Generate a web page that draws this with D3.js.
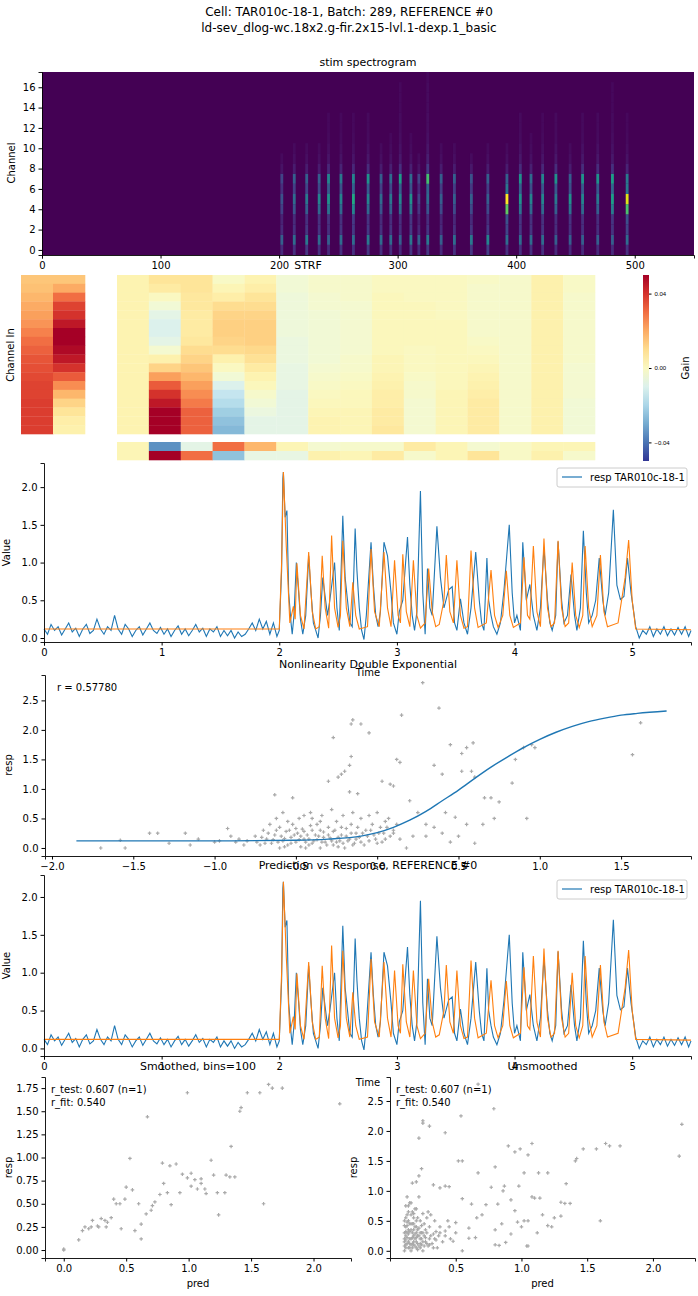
<!DOCTYPE html>
<html><head><meta charset="utf-8">
<script src="https://cdn.jsdelivr.net/npm/d3@7"></script>
<style>body{margin:0;background:#fff}svg{font-family:"DejaVu Sans",sans-serif}</style>
</head><body><svg id="c" width="698" height="1296"></svg>
<script>
// ---------- DATA ----------
const specT    = [202.3,212.8,223.3,233.8,241.7,252.2,262.7,275.1,286.0,294.2,302.2,311.2,317.9,325.4,336.7,347.9,362.2,376.1,392.2,403.5,412.5,422.3,433.5,445.5,456.0,468.8,481.2,493.6];
const specLow  = [0.3,0.35,0.4,0.35,0.3,0.35,0.35,0.4,0.35,0.35,0.3,0.4,0.3,0.4,0.3,0.35,0.4,0.45,0.35,0.35,0.35,0.35,0.3,0.3,0.3,0.3,0.3,0.35];
const specMid  = [0.25,0.35,0.4,0.45,0.5,0.45,0.6,0.45,0.35,0.4,0.45,0.5,0.2,0.35,0.3,0.3,0.3,0.3,1.0,0.5,0.45,0.45,0.4,0.5,0.45,0.4,0.55,0.95];
const specHigh = [0.2,0.3,0.3,0.3,0.45,0.4,0.45,0.5,0.3,0.35,0.55,0.35,0.2,0.7,0.3,0.3,0.25,0.3,0.3,0.5,0.35,0.45,0.5,0.3,0.5,0.5,0.55,0.4];
const chLowW  = [0.4,1.0,0.3,0.15,0,0,0,0,0,0,0,0,0,0,0,0,0,0];
const chMidW  = [0,0,0.1,0.2,0.75,1.0,0.3,0,0,0,0,0,0,0,0,0,0,0];
const chHighW = [0,0,0,0,0,0,0.3,1.0,0.25,0.12,0.08,0.06,0.05,0.05,0.04,0.04,0.04,0.03];

const strfLeft = [
 [0.015,0.016,0.018,0.02,0.022,0.024,0.027,0.03,0.032,0.034,0.035,0.036,0.037,0.037,0.038,0.038,0.038,0.038],
 [0.015,0.02,0.03,0.037,0.04,0.045,0.05,0.05,0.048,0.045,0.04,0.033,0.025,0.018,0.012,0.008,0.005,0.004]];
const strfMain = [
 [0.003,0.003,0.003,0.003,0.003,0.003,0.003,0.003,0.003,0.003,0.003,0.003,0.003,0.003,0.003,0.003,0.003,0.003],
 [0.008,0.006,0.0,-0.004,-0.008,-0.01,-0.01,-0.008,-0.003,0.004,0.012,0.022,0.033,0.04,0.045,0.05,0.05,0.05],
 [0.008,0.008,0.007,0.007,0.006,0.006,0.006,0.007,0.01,0.012,0.015,0.018,0.022,0.025,0.028,0.032,0.032,0.032],
 [-0.001,0.002,0.005,0.01,0.012,0.013,0.013,0.012,0.01,0.004,0.0,-0.004,-0.01,-0.015,-0.018,-0.022,-0.025,-0.027],
 [0.003,0.005,0.008,0.01,0.012,0.013,0.013,0.013,0.011,0.009,0.006,0.003,0.001,-0.002,-0.004,-0.006,-0.008,-0.008],
 [-0.004,-0.004,-0.005,-0.005,-0.005,-0.005,-0.005,-0.006,-0.006,-0.006,-0.007,-0.007,-0.007,-0.008,-0.008,-0.008,-0.008,-0.008],
 [-0.002,-0.002,-0.003,-0.003,-0.004,-0.004,-0.004,-0.004,-0.004,-0.004,-0.003,-0.002,-0.001,0.0,0.001,0.002,0.003,0.003],
 [-0.002,-0.002,-0.002,-0.003,-0.003,-0.003,-0.003,-0.003,-0.003,-0.002,-0.002,-0.001,0.0,0.001,0.001,0.002,0.002,0.002],
 [0.0,0.0,0.001,0.001,0.001,0.001,0.001,0.001,0.001,0.002,0.002,0.003,0.004,0.005,0.005,0.006,0.006,0.007],
 [0.0,0.0,0.0,0.001,0.001,0.001,0.001,0.001,0.0,0.0,0.0,-0.001,-0.002,-0.002,-0.003,-0.003,-0.003,-0.003],
 [0.0,0.0,0.0,0.0,0.0,0.001,0.001,0.001,0.001,0.001,0.001,0.001,0.001,0.002,0.002,0.002,0.002,0.002],
 [-0.001,-0.002,-0.002,-0.002,-0.002,-0.002,-0.002,-0.001,0.0,0.001,0.002,0.003,0.004,0.005,0.006,0.006,0.006,0.006],
 [-0.002,-0.002,-0.002,-0.002,-0.002,-0.002,-0.002,-0.002,-0.002,-0.002,-0.002,-0.002,-0.002,-0.002,-0.002,-0.002,-0.002,-0.002],
 [0.004,0.004,0.004,0.004,0.004,0.004,0.004,0.004,0.004,0.004,0.004,0.004,0.004,0.004,0.004,0.004,0.004,0.004],
 [-0.001,-0.001,-0.002,-0.002,-0.002,-0.002,-0.002,-0.002,-0.002,-0.002,-0.003,-0.003,-0.003,-0.003,-0.004,-0.004,-0.004,-0.004]];
const strfBottom = [
 [0.002,-0.035,-0.008,0.03,0.018,0.002,-0.003,-0.002,-0.002,0.006,0.002,-0.003,-0.001,0.002,0.002],
 [0.002,0.05,0.03,-0.025,-0.007,-0.007,0.004,0.002,0.006,-0.002,0.002,0.008,-0.001,0.004,-0.002]];

const respPts = [[0,0.12],[0.03,0.05],[0.06,0.18],[0.09,0.1],[0.12,0.15],[0.15,0.04],[0.18,0.12],[0.21,0.2],[0.24,0.08],[0.27,0.13],[0.3,0.02],[0.33,0.12],[0.36,0.18],[0.39,0.06],[0.42,0.1],[0.45,0.25],[0.48,0.12],[0.51,0.05],[0.54,0.15],[0.57,0.1],[0.6,0.3],[0.63,0.12],[0.66,0.05],[0.69,0.18],[0.72,0.12],[0.75,0.02],[0.78,0.1],[0.81,0.15],[0.84,0.04],[0.87,0.12],[0.9,0.2],[0.93,0.1],[0.96,0.06],[0.99,0.14],[1.02,0.05],[1.05,0.12],[1.08,0.02],[1.11,0.1],[1.14,0.16],[1.17,0.05],[1.2,0.12],[1.23,0.03],[1.26,0.1],[1.29,0.18],[1.32,0.08],[1.35,0.13],[1.38,0.02],[1.41,0.12],[1.44,0.08],[1.47,0.15],[1.5,0.02],[1.53,0.1],[1.56,0.03],[1.59,0.1],[1.62,0.0],[1.65,0.08],[1.68,0.02],[1.71,0.05],[1.74,0.12],[1.77,0.2],[1.8,0.1],[1.83,0.25],[1.86,0.12],[1.89,0.22],[1.92,0.05],[1.95,0.2],[1.98,0.02],[2.0,0.1],
 [2.02,0.9],[2.03,2.11],[2.035,2.2],[2.05,1.6],[2.065,1.69],[2.08,0.6],[2.1,0.2],[2.11,0.05],[2.125,0.3],[2.145,1.0],[2.165,0.6],[2.18,0.25],[2.2,0.05],[2.225,0.3],[2.25,1.09],[2.27,0.6],[2.29,0.2],[2.31,0.1],[2.33,0.0],[2.35,0.3],[2.37,0.8],[2.39,0.55],[2.41,0.3],[2.43,0.5],[2.47,1.0],[2.49,0.4],[2.51,0.1],[2.54,1.62],[2.56,0.8],[2.58,0.5],[2.6,0.2],[2.62,0.15],[2.645,1.45],[2.66,0.9],[2.68,0.4],[2.7,0.1],[2.72,-0.02],[2.74,0.3],[2.78,1.27],[2.8,0.7],[2.82,0.3],[2.84,0.15],[2.86,0.35],[2.89,1.27],[2.92,1.09],[2.95,0.6],[2.97,0.2],[3.0,0.05],[3.02,0.35],[3.05,0.5],[3.09,1.34],[3.11,0.7],[3.13,0.3],[3.15,0.1],[3.17,0.35],[3.2,1.95],[3.22,0.6],[3.24,0.05],[3.26,0.92],[3.28,0.4],[3.3,0.3],[3.34,1.48],[3.37,0.8],[3.4,0.4],[3.44,0.64],[3.47,0.68],[3.49,0.2],[3.51,0.1],[3.54,0.52],[3.57,0.2],[3.6,0.05],[3.63,0.4],[3.67,1.14],[3.7,0.5],[3.72,0.2],[3.74,0.1],[3.765,1.06],[3.78,0.5],[3.8,0.3],[3.82,0.15],[3.85,0.05],[3.88,0.2],[3.91,0.63],[3.955,1.5],[3.98,0.6],[4.0,0.2],[4.02,0.3],[4.05,0.1],[4.07,1.27],[4.1,0.5],[4.13,0.71],[4.16,0.3],[4.19,0.1],[4.22,0.4],[4.25,1.2],[4.28,0.5],[4.3,0.2],[4.32,0.1],[4.35,0.3],[4.37,1.28],[4.4,0.5],[4.42,0.2],[4.45,0.3],[4.48,0.84],[4.51,0.3],[4.53,0.1],[4.56,0.4],[4.585,1.42],[4.61,0.6],[4.63,0.2],[4.66,0.3],[4.69,0.5],[4.72,1.06],[4.75,0.5],[4.77,0.3],[4.8,0.6],[4.84,1.7],[4.87,0.7],[4.9,0.51],[4.93,0.55],[4.96,1.06],[4.99,0.6],[5.01,0.38],[5.03,0.15],[5.06,0.0],[5.09,0.1],[5.12,0.05],[5.15,0.15],[5.18,0.02],[5.21,0.12],[5.24,0.05],[5.27,0.15],[5.3,0.03],[5.33,0.12],[5.36,0.04],[5.39,0.14],[5.42,0.05],[5.45,0.15],[5.48,0.02],[5.5,0.1]];

const predPts = [[0,0.12],[2.0,0.12],[2.02,1.0],[2.035,2.2],[2.06,1.2],[2.09,0.2],[2.12,0.42],[2.135,0.25],[2.15,0.99],[2.18,0.3],[2.21,0.12],[2.25,1.14],[2.28,0.35],[2.31,0.12],[2.34,0.15],[2.365,1.09],[2.39,0.4],[2.42,0.13],[2.445,1.36],[2.47,0.4],[2.5,0.14],[2.52,0.3],[2.54,1.29],[2.57,0.4],[2.6,0.15],[2.625,0.74],[2.65,0.3],[2.68,0.12],[2.75,0.15],[2.78,1.18],[2.81,0.35],[2.85,0.15],[2.89,1.14],[2.92,0.4],[2.95,0.15],[2.98,1.03],[3.01,0.3],[3.03,0.2],[3.05,1.11],[3.08,0.35],[3.11,0.15],[3.14,1.03],[3.17,0.3],[3.2,0.13],[3.24,0.2],[3.27,0.92],[3.3,0.35],[3.33,0.15],[3.36,0.18],[3.4,0.5],[3.42,1.1],[3.45,0.35],[3.48,0.2],[3.51,1.03],[3.54,0.3],[3.57,0.13],[3.6,0.15],[3.63,1.16],[3.66,0.4],[3.69,0.14],[3.76,0.2],[3.8,0.9],[3.83,0.3],[3.86,0.14],[3.9,0.3],[3.93,0.89],[3.96,0.3],[3.99,0.14],[4.05,0.2],[4.08,1.07],[4.11,0.3],[4.13,0.25],[4.16,1.22],[4.19,0.35],[4.22,0.15],[4.25,1.32],[4.28,0.4],[4.31,0.15],[4.34,0.2],[4.37,1.29],[4.4,0.4],[4.43,0.15],[4.46,0.2],[4.49,1.0],[4.52,0.3],[4.55,0.14],[4.58,0.3],[4.6,1.22],[4.63,0.4],[4.66,0.15],[4.7,0.3],[4.73,1.1],[4.76,0.35],[4.79,0.15],[4.88,0.2],[4.94,0.8],[4.97,1.3],[5.0,0.5],[5.03,0.12],[5.5,0.11]];

const nlCurve = [[-1.85,0.12],[-1.0,0.12],[-0.5,0.13],[-0.3,0.15],[-0.1,0.2],[0.0,0.26],[0.1,0.35],[0.2,0.47],[0.3,0.62],[0.4,0.8],[0.5,0.98],[0.6,1.18],[0.7,1.37],[0.8,1.54],[0.9,1.7],[1.0,1.84],[1.1,1.96],[1.2,2.06],[1.3,2.14],[1.4,2.2],[1.5,2.25],[1.6,2.28],[1.78,2.32]];
const nlScatter = [[-1.7,0],[-1.55,0],[-1.58,0.13],[-1.4,0.25],[-1.35,0.25],[-1.28,0.08],[-1.18,0.25],[-1.15,0.05],[-1.1,0.15],[-1.0,0.1],[-0.97,0.12],[-0.92,0.33],[-0.9,0.2],[-0.87,0.1],[-0.85,0.15],[-0.82,0.05],[-0.8,0.12],
 [-0.63,0.9],[-0.58,0.6],[-0.52,0.85],[-0.45,0.55],[-0.4,0.5],[-0.35,0.45],[-0.3,1.13],[-0.27,1.87],[-0.24,1.2],[-0.22,1.25],[-0.2,1.3],[-0.17,1.4],[-0.16,1.55],[-0.15,2.17],[-0.16,2.1],[-0.1,2.1],[-0.17,0.95],[-0.12,0.92],[-0.05,1.95],[0.03,1.13],[0.08,1.08],[0.1,1.05],[0.15,2.25],[0.12,1.5],[0.14,1.45],[0.28,2.8],[0.38,2.37],[0.35,1.4],[0.4,1.25],[0.45,1.75],[0.52,1.6],[0.55,1.7],[0.52,1.3],[0.58,1.3],[0.59,1.78],[0.6,1.2],[0.66,0.85],[0.7,0.85],[0.75,0.78],[0.72,0.5],[0.85,1.5],[0.83,1.1],[0.9,1.7],[0.95,1.75],[0.97,1.7],[0.92,0.5],[1.57,1.58],[1.62,2.12],[0.2,0.8],[0.25,0.6],[0.3,0.4],[0.35,0.35],[0.4,0.25],[0.45,0.1],[0.5,0.2],[0.55,0.4],[0.6,0.08],[0.65,0.4],[0.18,0.0],[0.3,0.2],[0.42,0.6],[0.48,0.52],[0.22,0.2],[0.1,0.25],[0.05,0.45],[0.0,0.6],[-0.05,0.55],[0.04,0.25],
 [-0.75,0.2],[-0.72,0.05],[-0.7,0.3],[-0.68,0.15],[-0.66,0.4],[-0.65,0.08],[-0.63,0.22],[-0.6,0.0],[-0.6,0.35],[-0.58,0.12],[-0.56,0.28],[-0.55,0.05],[-0.53,0.18],[-0.52,0.4],[-0.5,0.1],[-0.49,0.25],[-0.47,0.02],[-0.46,0.32],[-0.45,0.15],[-0.43,0.22],[-0.42,0.05],[-0.4,0.3],[-0.39,0.12],[-0.37,0.4],[-0.36,0.2],[-0.35,0.0],[-0.33,0.27],[-0.32,0.1],[-0.3,0.35],[-0.29,0.17],[-0.27,0.05],[-0.26,0.3],[-0.25,0.45],[-0.23,0.12],[-0.22,0.22],[-0.2,0.0],[-0.19,0.33],[-0.17,0.15],[-0.16,0.4],[-0.14,0.08],[-0.13,0.25],[-0.11,0.18],[-0.1,0.5],[-0.08,0.05],[-0.07,0.3],[-0.05,0.12],[-0.03,0.4],[-0.02,0.22],[0.0,0.08],[0.02,0.35],[0.05,0.15],[0.07,0.5],[0.1,0.3],[-0.62,0.5],[-0.55,0.45],[-0.48,0.5],[-0.41,0.6],[-0.34,0.55],[-0.28,0.65],[-0.21,0.55],[-0.15,0.6],[-0.44,0.0],[-0.24,0.02],[-0.57,0.02],
 [-0.74,0.1],[-0.71,0.18],[-0.69,0.08],[-0.67,0.25],[-0.64,0.14],[-0.62,0.3],[-0.61,0.1],[-0.59,0.2],[-0.57,0.16],[-0.54,0.3],[-0.53,0.08],[-0.51,0.22],[-0.5,0.33],[-0.48,0.14],[-0.47,0.2],[-0.45,0.28],[-0.44,0.1],[-0.42,0.15],[-0.41,0.38],[-0.4,0.08],[-0.38,0.22],[-0.37,0.14],[-0.35,0.3],[-0.34,0.1],[-0.33,0.18],[-0.31,0.05],[-0.3,0.22],[-0.28,0.12],[-0.27,0.28],[-0.25,0.1],[-0.24,0.18],[-0.22,0.35],[-0.21,0.08],[-0.19,0.2],[-0.18,0.12],[-0.16,0.25],[-0.15,0.05],[-0.13,0.15],[-0.12,0.35],[-0.1,0.1],[-0.09,0.25],[-0.06,0.2],[-0.04,0.3],[-0.01,0.15],[0.01,0.25],[0.03,0.1],[0.06,0.35],[0.08,0.2],[0.12,0.4],[0.14,0.15]];

const smoothPts = [[0,0],[0,0.01],[0.12,0.11],[0.15,0.21],[0.17,0.25],[0.2,0.23],[0.22,0.25],[0.23,0.32],[0.27,0.26],[0.28,0.25],[0.3,0.34],[0.33,0.32],[0.34,0.25],[0.35,0.3],[0.38,0.35],[0.4,0.55],[0.42,0.5],[0.45,0.5],[0.46,0.23],[0.49,0.55],[0.5,0.68],[0.53,0.99],[0.55,0.65],[0.57,0.21],[0.6,0.5],[0.62,0.12],[0.62,0.28],[0.66,0.39],[0.67,1.44],[0.7,0.43],[0.71,0.48],[0.73,0.52],[0.77,0.6],[0.79,0.94],[0.8,0.72],[0.83,0.62],[0.85,0.91],[0.86,0.49],[0.9,0.93],[0.93,0.62],[0.95,0.82],[0.99,1.7],[0.99,0.78],[1.02,0.69],[1.02,0.83],[1.05,0.76],[1.07,0.66],[1.1,0.72],[1.1,0.77],[1.13,0.66],[1.14,0.61],[1.18,0.97],[1.2,0.81],[1.23,0.62],[1.24,0.38],[1.29,0.62],[1.3,0.81],[1.33,0.79],[1.34,1.12],[1.37,0.79],[1.41,1.5],[1.42,1.54],[1.47,1.7],[1.57,1.7],[1.6,0.5],[1.64,1.79],[1.67,1.75],[1.75,1.75],[2.21,1.58]];

const unsmoothPts = [[0.22,1.88],[0.25,2.17],[0.25,2.13],[0.3,2.08],[0.42,1.97],[0.54,2.25],[0.67,2.78],[0.79,2.37],[2.22,2.11],[2.2,1.58],[1.64,1.79],[1.67,1.75],[1.75,1.75],[1.57,1.7],[1.47,1.7],[1.42,1.54],[1.41,1.5],[1.6,0.5],[1.34,1.12],[1.33,0.79],[1.37,0.79],[1.3,0.81],[0.9,1.75],[0.95,1.65],[0.99,1.7],[1.08,1.79],[1.05,1.6],[0.8,1.4],[0.67,1.3],[1.13,1.3],[1.2,1.3],[1.02,1.3],[0.52,1.5],[0.55,1.5],[0.17,1.13],[0.2,1.15],[0.22,1.25],[0.24,1.37],[0.33,1.1],[0.38,1.05],[0.42,1.08],[0.45,1.07],[0.77,1.06],[0.87,1.08],[0.98,1.08],[1.08,0.9],[1.1,0.88],[1.14,0.88],[0.55,0.87],[0.62,0.78],[0.73,0.77],[0.82,0.78],[0.86,1.0],[0.92,0.85],[0.95,0.67],[0.97,0.48],[0.85,0.45],[0.8,0.35],[0.7,0.6],[0.66,0.55],[0.6,0.38],[0.5,0.47],[0.45,0.4],[0.42,0.33],[0.38,0.3],[0.35,0.32],[1.05,0.08],[1.04,0.08],[0.8,0.1],[0.83,0.09],[0.55,0.0],[0.48,0.16],[0.6,0.21],[0.65,0.22],[1.0,0.4],[1.05,0.5],[1.12,0.3],[1.16,0.6],[1.2,0.42],[1.23,0.4],[1.25,0.55],[1.3,0.58],[1.02,0.5],[0.92,0.28],[0.88,0.14],
 [0.11,0.0],[0.11,0.2],[0.12,0.4],[0.12,0.1],[0.13,0.6],[0.13,0.3],[0.14,0.05],[0.14,0.5],[0.15,0.2],[0.15,0.8],[0.16,0.35],[0.16,0.0],[0.17,0.12],[0.17,0.65],[0.18,0.25],[0.18,0.45],[0.19,0.08],[0.19,0.7],[0.2,0.3],[0.2,0.15],[0.21,0.55],[0.21,0.02],[0.22,0.38],[0.22,0.9],[0.23,0.2],[0.23,0.5],[0.24,0.1],[0.24,0.3],[0.25,0.62],[0.25,0.0],[0.26,0.25],[0.26,0.45],[0.27,0.15],[0.28,0.55],[0.28,0.3],[0.29,0.08],[0.3,0.4],[0.3,0.2],[0.31,0.6],[0.32,0.12],[0.33,0.28],[0.34,0.5],[0.35,0.18],[0.36,0.05],[0.38,0.4],[0.4,0.15],[0.42,0.25],[0.12,0.75],[0.13,0.9],[0.14,0.35],[0.15,0.45],[0.16,0.6],[0.18,0.1],[0.2,0.7],[0.11,0.5],[0.12,0.25],[0.17,0.3],[0.19,0.4],[0.21,0.25],[0.23,0.05],[0.27,0.35],[0.29,0.65],[0.44,0.5],[0.46,0.2],[0.5,0.3],
 [0.11,0.08],[0.11,0.3],[0.11,0.42],[0.11,0.15],[0.12,0.05],[0.12,0.18],[0.12,0.32],[0.12,0.55],[0.13,0.12],[0.13,0.22],[0.13,0.42],[0.14,0.15],[0.14,0.28],[0.14,0.65],[0.15,0.05],[0.15,0.32],[0.15,0.12],[0.16,0.2],[0.16,0.45],[0.16,0.1],[0.17,0.05],[0.17,0.22],[0.17,0.45],[0.18,0.35],[0.18,0.15],[0.18,0.55],[0.19,0.2],[0.19,0.28],[0.2,0.05],[0.2,0.4],[0.2,0.22],[0.21,0.12],[0.21,0.35],[0.22,0.08],[0.22,0.25],[0.23,0.3],[0.23,0.12],[0.24,0.2],[0.24,0.42],[0.25,0.15],[0.25,0.3],[0.26,0.08],[0.27,0.22],[0.28,0.12],[0.3,0.1],[0.31,0.25],[0.33,0.05],[0.34,0.2],[0.37,0.25],[0.14,0.75],[0.16,0.8],[0.18,0.62],[0.13,0.48],[0.2,0.5]];

// ---------- DRAW ----------
const svg = d3.select("#c");
const BLUE="#1f77b4", ORANGE="#ff7f0e", GRAY="#a9a9a9";
function txt(x,y,s,opt={}){const t=svg.append("text").attr("x",x).attr("y",y).text(s)
  .attr("font-size",opt.size||10).attr("text-anchor",opt.anchor||"middle").attr("fill","#000");
  if(opt.rot) t.attr("transform",`rotate(-90,${x},${y})`); return t;}
function axes(x,y,left,bottom,top,xt,yt,xf,yf){
  const gx=svg.append("g").attr("transform",`translate(0,${bottom})`).call(d3.axisBottom(x).tickValues(xt).tickFormat(xf).tickSizeOuter(0).tickSize(3.5));
  const gy=svg.append("g").attr("transform",`translate(${left},0)`).call(d3.axisLeft(y).tickValues(yt).tickFormat(yf).tickSizeOuter(0).tickSize(3.5));
  [gx,gy].forEach(g=>{g.attr("font-size",10).attr("font-family","DejaVu Sans");g.select(".domain").attr("stroke-width",0.9);});
}
txt(349,16,"Cell: TAR010c-18-1, Batch: 289, REFERENCE #0",{size:12});
txt(349,32,"ld-sev_dlog-wc.18x2.g-fir.2x15-lvl.1-dexp.1_basic",{size:12});

// Panel 1 spectrogram
{const x=d3.scaleLinear([0,550],[42,694]), y=d3.scaleLinear([-0.5,17.5],[255,72]);
 svg.append("rect").attr("x",42).attr("y",72).attr("width",652).attr("height",183).attr("fill",d3.interpolateViridis(0));
 const cells=[];
 specT.forEach((t,i)=>{for(let c=0;c<18;c++){const v=Math.min(1,specLow[i]*chLowW[c]+specMid[i]*chMidW[c]+specHigh[i]*chHighW[c]);
   if(v>0.02) cells.push({t,c,v});}});
 svg.append("g").selectAll("rect").data(cells).join("rect")
  .attr("x",d=>x(d.t-1.2)).attr("width",x(2.4)-x(0)).attr("y",d=>y(d.c+0.5)).attr("height",y(0)-y(1))
  .attr("fill",d=>d3.interpolateViridis(d.v));
 axes(x,y,42,255,72,[0,100,200,300,400,500],d3.range(0,17,2),d3.format("d"),d3.format("d"));
 txt(368,66,"stim spectrogram",{size:11}); txt(15,163,"Channel",{rot:1});
}
// Panel 2 STRF
{const col=v=>d3.interpolateRdYlBu(1-(v+0.05)/0.1);
 const yr=d3.scaleBand(d3.range(18),[275,434]);
 const xl=d3.scaleBand(d3.range(2),[21,85]);
 strfLeft.forEach((cArr,ci)=>svg.append("g").selectAll("rect").data(cArr).join("rect")
  .attr("x",xl(ci)).attr("width",xl.bandwidth()+0.3).attr("y",(d,r)=>yr(r)).attr("height",yr.bandwidth()+0.3).attr("fill",d=>col(d)));
 const xm=d3.scaleBand(d3.range(15),[117,595]);
 strfMain.forEach((cArr,ci)=>svg.append("g").selectAll("rect").data(cArr).join("rect")
  .attr("x",xm(ci)).attr("width",xm.bandwidth()+0.3).attr("y",(d,r)=>yr(r)).attr("height",yr.bandwidth()+0.3).attr("fill",d=>col(d)));
 const yb=d3.scaleBand(d3.range(2),[442,460]);
 strfBottom.forEach((rArr,ri)=>svg.append("g").selectAll("rect").data(rArr).join("rect")
  .attr("x",(d,i)=>xm(i)).attr("width",xm.bandwidth()+0.3).attr("y",yb(ri)).attr("height",yb.bandwidth()+0.3).attr("fill",d=>col(d)));
 const cs=d3.scaleLinear([-0.05,0.05],[461,275]);
 const defs=svg.append("defs"), gr=defs.append("linearGradient").attr("id","cb").attr("x1",0).attr("x2",0).attr("y1",1).attr("y2",0);
 d3.range(0,1.01,0.1).forEach(o=>gr.append("stop").attr("offset",o).attr("stop-color",d3.interpolateRdYlBu(1-o)));
 svg.append("rect").attr("x",643).attr("y",275).attr("width",6).attr("height",186).attr("fill","url(#cb)");
 const ga=svg.append("g").attr("transform","translate(649,0)").call(d3.axisRight(cs).tickValues([-0.04,0,0.04]).tickFormat(d3.format(".2f")).tickSize(2.5).tickSizeOuter(0));
 ga.attr("font-size",6).select(".domain").remove();
 txt(689,368,"Gain",{rot:1}); txt(14,355,"Channel In",{rot:1}); txt(308,269,"STRF",{size:11});
}
function tsPanel(top,bot,yd,title,labY){
 const x=d3.scaleLinear([0,5.5],[44,691]), y=d3.scaleLinear(yd,[bot,top]);
 const ln=d3.line().x(d=>x(d[0])).y(d=>y(d[1]));
 svg.append("path").datum(respPts).attr("d",ln).attr("fill","none").attr("stroke",BLUE).attr("stroke-width",1.1);
 svg.append("path").datum(predPts).attr("d",ln).attr("fill","none").attr("stroke",ORANGE).attr("stroke-width",1.1);
 axes(x,y,44,bot,top,[0,1,2,3,4,5],[0,0.5,1,1.5,2],d3.format("d"),d3.format(".1f"));
 txt(10,(top+bot)/2,"Value",{rot:1});
 txt(368,labY,"Time",{size:10});
 const lg=svg.append("g");
 lg.append("rect").attr("x",557).attr("y",top+5).attr("width",130).attr("height",19).attr("rx",2).attr("fill","#fff").attr("stroke","#ccc");
 lg.append("line").attr("x1",562).attr("x2",582).attr("y1",top+14).attr("y2",top+14).attr("stroke",BLUE).attr("stroke-width",1.2);
 lg.append("text").attr("x",590).attr("y",top+18).attr("font-size",10).text("resp TAR010c-18-1");
 if(title) txt(368,top-6,title,{size:11});
}
tsPanel(463,642,[-0.053,2.32],null,676);
// Panel 4 nonlinearity
{const x=d3.scaleLinear([-2.043,1.93],[45,691]), y=d3.scaleLinear([-0.136,2.93],[856,675]);
 const plus=d3.symbol(d3.symbolCross,7);
 svg.append("g").selectAll("path").data(nlScatter).join("path").attr("d",plus).attr("transform",d=>`translate(${x(d[0])},${y(d[1])})`).attr("fill",GRAY);
 svg.append("path").datum(nlCurve).attr("d",d3.line().curve(d3.curveMonotoneX).x(d=>x(d[0])).y(d=>y(d[1]))).attr("fill","none").attr("stroke",BLUE).attr("stroke-width",1.4);
 axes(x,y,45,856,675,[-2,-1.5,-1,-0.5,0,0.5,1,1.5],[0,0.5,1,1.5,2,2.5],d3.format(".1f"),d3.format(".1f"));
 txt(12,765,"resp",{rot:1}); txt(57,691,"r = 0.57780",{anchor:"start"});
 txt(368,668,"Nonlinearity Double Exponential",{size:11});
}
tsPanel(875,1056,[-0.1,2.29],"Prediction vs Response, REFERENCE #0",1086);
// Panel 6
function scat(pts,xd,xr,yd,yr,xt,yt,yf,title,tx){
 const x=d3.scaleLinear(xd,xr), y=d3.scaleLinear(yd,yr);
 const plus=d3.symbol(d3.symbolCross,7);
 svg.append("g").selectAll("path").data(pts).join("path").attr("d",plus).attr("transform",d=>`translate(${x(d[0])},${y(d[1])})`).attr("fill",GRAY);
 axes(x,y,xr[0],yr[0],yr[1],xt,yt,d3.format(".1f"),yf);
 txt((xr[0]+xr[1])/2,1070,title,{size:11});
 txt((xr[0]+xr[1])/2,1287,"pred");
 txt(xr[0]-33,(yr[0]+yr[1])/2,"resp",{rot:1});
 txt(xr[0]+6,1093,"r_test: 0.607 (n=1)",{anchor:"start"});
 txt(xr[0]+6,1106,"r_fit: 0.540",{anchor:"start"});
}
scat(smoothPts,[-0.15,2.30],[45,351],[-0.086,1.87],[1258,1077],[0,0.5,1,1.5,2],[0,0.25,0.5,0.75,1,1.25,1.5,1.75],d3.format(".2f"),"Smoothed, bins=100");
scat(unsmoothPts,[0.0,2.32],[390,695],[-0.12,2.9],[1258,1077],[0.5,1,1.5,2],[0,0.5,1,1.5,2,2.5],d3.format(".1f"),"Unsmoothed");
</script></body></html>
